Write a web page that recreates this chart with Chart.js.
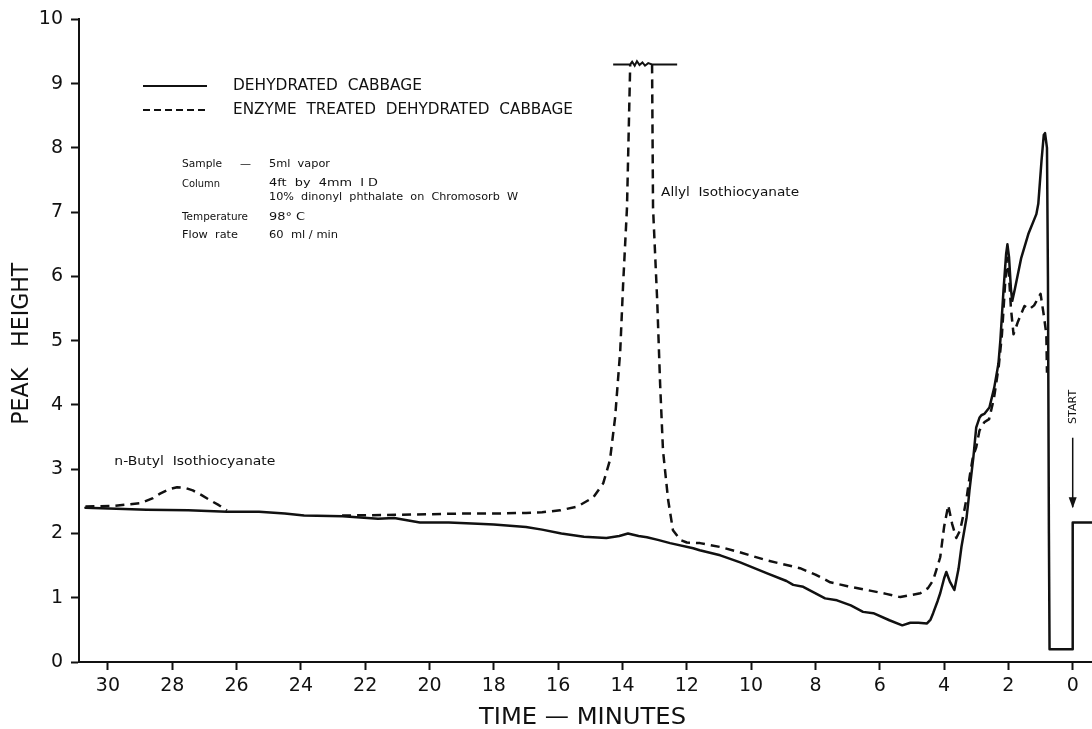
<!DOCTYPE html>
<html>
<head>
<meta charset="utf-8">
<title>Cabbage volatiles - gas chromatogram</title>
<script src="https://cdn.jsdelivr.net/npm/chart.js@4.4.0/dist/chart.umd.min.js"></script>
<style>
    body { margin: 0; background: #fff; }
    #wrap { width: 1092px; height: 729px; }
</style>
</head>
<body>
<div id="wrap"><canvas id="chrom"></canvas></div>
<script>
// axis ticks
const timeTicks = [30, 28, 26, 24, 22, 20, 18, 16, 14, 12, 10, 8, 6, 4, 2, 0];
const heightTicks = [0, 1, 2, 3, 4, 5, 6, 7, 8, 9, 10];

// dehydrated cabbage trace (time in minutes, peak height)
const cabbageTime = [30.7, 29.5, 28.8, 27.5, 26.3, 25.3, 24.5, 23.9, 22.7, 21.6, 21.1, 20.3, 19.4, 18.5, 18.0,
    17.0, 16.5, 15.9, 15.2, 14.5, 14.1, 13.83, 13.5, 13.24, 12.9, 12.52, 11.8, 11.6, 10.96, 10.34, 9.5, 8.9,
    8.69, 8.38, 7.7, 7.33, 6.9, 6.52, 6.2, 5.7, 5.3, 5.05, 4.8, 4.53, 4.42, 4.34, 4.2, 4.12, 4.0, 3.93, 3.82, 3.68,
    3.55, 3.46, 3.3, 3.24, 3.21, 3.09, 3.0, 2.9, 2.84, 2.75, 2.59, 2.44, 2.31, 2.25, 2.15, 2.07, 2.03, 1.98,
    1.92, 1.88, 1.8, 1.6, 1.38, 1.13, 1.07, 0.97, 0.9, 0.86, 0.8, 0.77, 0.74, 0.72, 0.02, 0.0, -0.6];
const cabbageHeight = [2.40, 2.38, 2.37, 2.36, 2.34, 2.34, 2.31, 2.28, 2.27, 2.23, 2.24, 2.17, 2.17, 2.15, 2.14,
    2.10, 2.06, 2.00, 1.95, 1.93, 1.96, 2.00, 1.96, 1.94, 1.90, 1.85, 1.77, 1.74, 1.66, 1.55, 1.38, 1.26,
    1.20, 1.17, 0.99, 0.96, 0.88, 0.78, 0.76, 0.65, 0.57, 0.61, 0.61, 0.60, 0.66, 0.76, 0.95, 1.07, 1.30, 1.40, 1.25, 1.12,
    1.45, 1.79, 2.25, 2.52, 2.67, 3.18, 3.65, 3.80, 3.84, 3.86, 3.96, 4.27, 4.64, 5.00, 5.80, 6.35, 6.50, 6.30,
    5.80, 5.62, 5.80, 6.29, 6.66, 6.97, 7.13, 7.80, 8.20, 8.23, 8.00, 6.00, 2.00, 0.20, 0.20, 2.17, 2.17];

// enzyme treated trace; null marks a break in the recording
const enzymeTime = [30.7, 29.8, 29.0, 28.6, 28.38, 28.1, 27.85, 27.6, 27.36, 27.1, 26.83, 26.55, 26.3, 26.0,
    22.72, 21.0, 19.05, 18.0, 17.0, 16.5, 15.94, 15.4, 14.91, 14.6, 14.39, 14.23, 14.07, 13.98, 13.86, 13.76, 13.4,
    13.08, 13.05, 12.92, 12.83, 12.74, 12.58, 12.43, 12.2, 12.0, 11.59, 10.96, 10.3, 9.5, 8.48, 8.0, 7.54, 7.0,
    6.39, 5.8, 5.36, 4.74, 4.5, 4.34, 4.12, 4.0, 3.87, 3.75, 3.62, 3.5, 3.37, 3.3, 3.2, 3.1, 3.0, 2.9, 2.75,
    2.6, 2.45, 2.3, 2.2, 2.1, 2.04, 1.98, 1.92, 1.84, 1.7, 1.5, 1.35, 1.2, 1.0, 0.9, 0.82, 0.8];
const enzymeHeight = [2.42, 2.43, 2.47, 2.55, 2.62, 2.69, 2.72, 2.71, 2.67, 2.60, 2.52, 2.44, 2.36, null,
    2.28, 2.29, 2.31, 2.31, 2.32, 2.33, 2.36, 2.42, 2.56, 2.78, 3.14, 3.80, 4.84, 5.88, 7.07, 9.30, null,
    9.30, 7.07, 5.62, 4.33, 3.29, 2.52, 2.05, 1.90, 1.86, 1.85, 1.79, 1.70, 1.58, 1.46, 1.36, 1.24, 1.18,
    1.12, 1.06, 1.01, 1.07, 1.15, 1.27, 1.63, 2.10, 2.44, 2.15, 1.93, 2.05, 2.36, 2.55, 2.90, 3.20, 3.34, 3.60, 3.73,
    3.78, 4.10, 4.60, 5.10, 5.90, 6.29, 6.00, 5.50, 5.10, 5.30, 5.54, 5.49, 5.55, 5.73, 5.40, 5.10, 4.50];

// pen limit line across the top of the allyl peak
const clipTime = [14.29, 13.76, 13.7, 13.62, 13.55, 13.47, 13.38, 13.3, 13.2, 13.08, 12.3];
const clipHeight = [9.30, 9.30, 9.34, 9.28, 9.35, 9.29, 9.33, 9.28, 9.32, 9.30, 9.30];

function toPoints(xs, ys) {
    return xs.map((x, i) => ({ x: x, y: ys[i] }));
}

const INK = '#111';
const FONT = '"DejaVu Sans", sans-serif';

// draws text squeezed or stretched to a given width
function fitText(ctx, text, x, y, width, size, align) {
    ctx.font = size + 'px ' + FONT;
    const w = ctx.measureText(text).width;
    ctx.save();
    ctx.translate(x, y);
    ctx.scale(width / w, 1);
    ctx.textAlign = 'left';
    ctx.textBaseline = 'middle';
    ctx.fillText(text, align === 'center' ? -w / 2 : 0, 0);
    ctx.restore();
}

const notes = {
    id: 'notes',
    afterDraw(chart) {
        const ctx = chart.ctx;
        const xs = chart.scales.x, ys = chart.scales.y;
        const area = chart.chartArea;
        ctx.save();
        ctx.fillStyle = INK;
        ctx.strokeStyle = INK;

        // legend
        ctx.lineWidth = 2;
        ctx.beginPath();
        ctx.moveTo(143, 86); ctx.lineTo(207, 86);
        ctx.stroke();
        ctx.setLineDash([7, 4]);
        ctx.beginPath();
        ctx.moveTo(143, 110); ctx.lineTo(209, 110);
        ctx.stroke();
        ctx.setLineDash([]);
        fitText(ctx, 'DEHYDRATED  CABBAGE', 233, 86, 189, 15);
        fitText(ctx, 'ENZYME  TREATED  DEHYDRATED  CABBAGE', 233, 110, 340, 15);

        // run conditions
        fitText(ctx, 'Sample', 182, 164, 40, 11);
        fitText(ctx, '\u2014', 240, 164, 11, 11);
        fitText(ctx, '5ml  vapor', 269, 164, 61, 11);
        fitText(ctx, 'Column', 182, 184, 38, 11);
        fitText(ctx, '4ft  by  4mm  I D', 269, 183, 109, 11);
        fitText(ctx, '10%  dinonyl  phthalate  on  Chromosorb  W', 269, 197, 249, 11);
        fitText(ctx, 'Temperature', 182, 217, 66, 11);
        fitText(ctx, '98\u00b0 C', 269, 217, 36, 11);
        fitText(ctx, 'Flow  rate', 182, 235, 56, 11);
        fitText(ctx, '60  ml / min', 269, 235, 69, 11);

        // peak names
        fitText(ctx, 'Allyl  Isothiocyanate', xs.getPixelForValue(12.8), ys.getPixelForValue(7.3), 138, 13);
        fitText(ctx, 'n-Butyl  Isothiocyanate', xs.getPixelForValue(29.8), ys.getPixelForValue(3.12), 161, 13);

        // injection marker
        const sx = xs.getPixelForValue(0);
        const yTop = ys.getPixelForValue(3.49), yTip = ys.getPixelForValue(2.41);
        ctx.lineWidth = 1.5;
        ctx.beginPath();
        ctx.moveTo(sx, yTop); ctx.lineTo(sx, yTip);
        ctx.stroke();
        ctx.beginPath();
        ctx.moveTo(sx, yTip + 1); ctx.lineTo(sx - 4, yTip - 10); ctx.lineTo(sx + 4, yTip - 10);
        ctx.closePath();
        ctx.fill();
        ctx.save();
        ctx.translate(sx, ys.getPixelForValue(3.97));
        ctx.rotate(-Math.PI / 2);
        fitText(ctx, 'START', 0, 0, 34, 11, 'center');
        ctx.restore();

        // axis titles
        fitText(ctx, 'TIME \u2014 MINUTES', (area.left + area.right) / 2 - 3, 718, 207, 23, 'center');
        ctx.save();
        ctx.translate(22, (area.top + area.bottom) / 2 + 3);
        ctx.rotate(-Math.PI / 2);
        fitText(ctx, 'PEAK   HEIGHT', 0, 0, 162, 23, 'center');
        ctx.restore();

        ctx.restore();
    }
};

new Chart(document.getElementById('chrom'), {
    type: 'scatter',
    data: {
        datasets: [
            {
                label: 'DEHYDRATED CABBAGE',
                data: toPoints(cabbageTime, cabbageHeight),
                showLine: true, borderColor: INK, borderWidth: 2.5,
                pointRadius: 0, tension: 0, spanGaps: false,
                borderJoinStyle: 'round', borderCapStyle: 'round'
            },
            {
                label: 'ENZYME TREATED DEHYDRATED CABBAGE',
                data: toPoints(enzymeTime, enzymeHeight),
                showLine: true, borderColor: INK, borderWidth: 2.5, borderDash: [9, 6],
                pointRadius: 0, tension: 0, spanGaps: false,
                borderJoinStyle: 'round'
            },
            {
                label: 'limit',
                data: toPoints(clipTime, clipHeight),
                showLine: true, borderColor: INK, borderWidth: 2,
                pointRadius: 0, tension: 0
            }
        ]
    },
    options: {
        responsive: true,
        maintainAspectRatio: false,
        animation: false,
        layout: { padding: { top: 18, right: 0, left: 0, bottom: 0 } },
        plugins: { legend: { display: false }, tooltip: { enabled: false } },
        scales: {
            x: {
                type: 'linear', reverse: true, min: -0.6, max: 30.9,
                afterBuildTicks: s => { s.ticks = timeTicks.map(v => ({ value: v })); },
                afterFit: s => { s.height = 67; },
                grid: { drawOnChartArea: false, drawTicks: true, tickLength: 8, tickColor: INK, tickWidth: 2 },
                border: { display: true, color: INK, width: 2 },
                ticks: { color: INK, font: { family: FONT, size: 19 }, padding: 5, maxRotation: 0, autoSkip: false }
            },
            y: {
                min: 0, max: 10,
                afterBuildTicks: s => { s.ticks = heightTicks.map(v => ({ value: v })); },
                afterFit: s => { s.width = 79; },
                grid: { drawOnChartArea: false, drawTicks: true, tickLength: 8, tickColor: INK, tickWidth: 2 },
                border: { display: true, color: INK, width: 2 },
                ticks: { color: INK, font: { family: FONT, size: 19 }, padding: 8 }
            }
        }
    },
    plugins: [notes]
});
</script>
</body>
</html>
